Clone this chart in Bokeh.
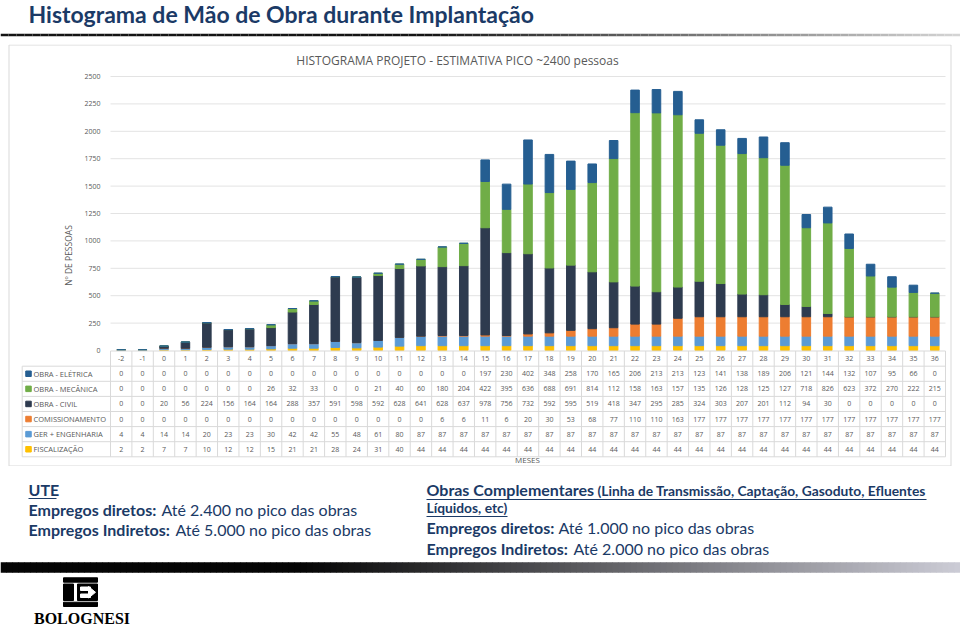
from bokeh.plotting import figure
from bokeh.layouts import column
from bokeh.models import Range1d, FixedTicker, ColumnDataSource
from bokeh.core.properties import value
from bokeh.embed import file_html
from bokeh.resources import INLINE

# ------------------------------------------------------------------ data
months = list(range(-2, 37))
eletrica = [0] * 17 + [197, 230, 402, 348, 258, 170, 165, 206, 213, 213, 123, 141,
                       138, 189, 206, 121, 144, 132, 107, 95, 66, 0]
mecanica = [0, 0, 0, 0, 0, 0, 0, 26, 32, 33, 0, 0, 21, 40, 60, 180, 204, 422, 395,
            636, 688, 691, 814, 1125, 1582, 1632, 1572, 1350, 1262, 1282, 1250, 1270,
            718, 826, 623, 372, 270, 222, 215]
civil = [0, 0, 20, 56, 224, 156, 164, 164, 288, 357, 591, 598, 592, 628, 641, 628, 637,
         978, 756, 732, 592, 595, 519, 418, 347, 295, 285, 324, 303, 207, 201, 112, 94,
         30, 0, 0, 0, 0, 0]
comissionamento = [0] * 15 + [6, 6, 11, 6, 20, 30, 53, 68, 77, 110, 110, 163] + [177] * 12
ger_engenharia = [4, 4, 14, 14, 20, 23, 23, 30, 42, 42, 55, 48, 61, 80] + [87] * 25
fiscalizacao = [2, 2, 7, 7, 10, 12, 12, 15, 21, 21, 28, 24, 31, 40] + [44] * 25

series_labels = ["OBRA - ELÉTRICA", "OBRA - MECÂNICA", "OBRA - CIVIL",
                 "COMISSIONAMENTO", "GER + ENGENHARIA", "FISCALIZAÇÃO"]
y_ticks = [0, 250, 500, 750, 1000, 1250, 1500, 1750, 2000, 2250, 2500]

slide_title = "Histograma de Mão de Obra durante Implantação"
chart_title = "HISTOGRAMA PROJETO - ESTIMATIVA PICO ~2400 pessoas"
y_label = "Nº DE PESSOAS"
x_label = "MESES"

# ------------------------------------------------------------------ style
C_ELE, C_MEC, C_CIV = "#255E91", "#70AD47", "#2E3B4F"
C_COM, C_GER, C_FIS = "#ED7D31", "#5B9BD5", "#FFC000"
series_colors = [C_ELE, C_MEC, C_CIV, C_COM, C_GER, C_FIS]
NAVY = "#1B3A66"
GRAY = "#595959"
LINE = "#D9D9D9"
SLIDE_FONT = value("Lato")
CHART_FONT = value("Open Sans")
W = 960


def blank(w, h, x0, x1, y0, y1):
    p = figure(width=w, height=h, x_range=Range1d(x0, x1), y_range=Range1d(y1, y0),
               toolbar_location=None, output_backend="svg", min_border=0,
               x_axis_location=None, y_axis_location=None)
    p.outline_line_color = None
    p.grid.visible = False
    p.background_fill_color = "white"
    p.border_fill_color = "white"
    return p


def lerp(c0, c1, t):
    t = max(0.0, min(1.0, t))
    return "#%02x%02x%02x" % tuple(int(round(a + (b - a) * t)) for a, b in zip(c0, c1))


# ------------------------------------------------------------------ header
ph = blank(W, 44, 0, W, 0, 44)
ph.text(x=[28], y=[13.5], text=[slide_title], text_font=SLIDE_FONT, text_font_style="bold",
        text_font_size="23px", text_color=NAVY, text_align="left", text_baseline="middle")
gx = list(range(0, W, 8))
ph.segment(x0=gx, x1=[g + 8 for g in gx], y0=[34.5] * len(gx), y1=[34.5] * len(gx),
           line_width=2.5,
           line_color=[lerp((20, 20, 20), (215, 215, 215), (g - 420) / 540) for g in gx])

# ------------------------------------------------------------------ chart + table
X0, X1 = 110.0, 945.0
Y0, Y2500 = 350.0, 76.0
PPM = (X1 - X0) / len(months)
PPU = (Y0 - Y2500) / 2500.0


def xd(rx):
    return months[0] - 0.5 + (rx - X0) / PPM


def yd(ry):
    return (Y0 - ry) / PPU


pc = figure(width=W, height=422, x_range=Range1d(xd(0), xd(W)),
            y_range=Range1d(yd(466), yd(44)), toolbar_location=None,
            output_backend="svg", min_border=0, x_axis_location=None)
pc.outline_line_color = None
pc.grid.visible = False
ya = pc.yaxis[0]
ya.fixed_location = months[0] - 0.5
ya.ticker = FixedTicker(ticks=y_ticks)
ya.axis_line_color = None
ya.major_tick_line_color = None
ya.minor_tick_line_color = None
ya.major_label_text_font_size = "7px"
ya.major_label_text_color = GRAY
ya.major_label_text_font = "Open Sans"
ya.major_label_standoff = 4
ya.axis_label = y_label
ya.axis_label_text_font_size = "8.5px"
ya.axis_label_text_font_style = "normal"
ya.axis_label_text_color = GRAY
ya.axis_label_text_font = "Open Sans"
ya.axis_label_standoff = 7

# chart box
pc.quad(left=[xd(8.5)], right=[xd(950.5)], top=[yd(44.5)], bottom=[yd(465.5)],
        fill_color=None, line_color=LINE, line_width=1)

xa, xb = months[0] - 0.5, months[-1] + 0.5
gt = [t for t in y_ticks if t > 0]
pc.segment(x0=[xa] * len(gt), x1=[xb] * len(gt), y0=gt, y1=gt, line_color="#E3E3E3", line_width=1)

pc.text(x=[xd(457)], y=[yd(60)], text=[chart_title], text_font=CHART_FONT,
        text_font_size="12px", text_color=GRAY, text_align="center", text_baseline="middle")

src = ColumnDataSource(dict(month=months, fis=fiscalizacao, ger=ger_engenharia,
                            com=comissionamento, civ=civil, mec=mecanica, ele=eletrica))
pc.vbar_stack(["fis", "ger", "com", "civ", "mec", "ele"], x="month", width=0.4,
              color=[C_FIS, C_GER, C_COM, C_CIV, C_MEC, C_ELE], source=src)

# table grid
row_top = 350.5
row_edges = [365.7, 380.8, 395.9, 411.0, 426.1, 441.2, 456.3]
left_edge = 21.7
pc.segment(x0=[xa], x1=[xb], y0=[yd(row_top)], y1=[yd(row_top)], line_color=LINE, line_width=1)
pc.segment(x0=[xd(left_edge)] * len(row_edges), x1=[xb] * len(row_edges),
           y0=[yd(r) for r in row_edges], y1=[yd(r) for r in row_edges],
           line_color=LINE, line_width=1)
vx = [m - 0.5 for m in months] + [months[-1] + 0.5]
pc.segment(x0=vx, x1=vx, y0=[yd(row_top)] * len(vx), y1=[yd(row_edges[-1])] * len(vx),
           line_color=LINE, line_width=1)
pc.segment(x0=[xd(left_edge)], x1=[xd(left_edge)], y0=[yd(row_edges[0])],
           y1=[yd(row_edges[-1])], line_color=LINE, line_width=1)

# header row (months)
hdr_y = yd((row_top + row_edges[0]) / 2)
pc.text(x=months, y=[hdr_y] * len(months), text=[str(m) for m in months],
        text_font=CHART_FONT, text_font_size="7px", text_color=GRAY,
        text_align="center", text_baseline="middle")

rows = [eletrica, mecanica, civil, comissionamento, ger_engenharia, fiscalizacao]
row_centers = [yd((row_edges[i] + row_edges[i + 1]) / 2) for i in range(len(rows))]


def cell(v):
    s = str(v)
    return s[:3] if len(s) > 3 else s   # narrow Excel cells clip 4-digit values


cx, cy, ct = [], [], []
for r, vals in enumerate(rows):
    for m, v in zip(months, vals):
        cx.append(m)
        cy.append(row_centers[r])
        ct.append(cell(v))
pc.text(x=cx, y=cy, text=ct, text_font=CHART_FONT, text_font_size="7px",
        text_color=GRAY, text_align="center", text_baseline="middle")

pc.scatter(x=[xd(28)] * len(rows), y=row_centers, marker="square", size=5.5,
           color=series_colors)
pc.text(x=[xd(33)] * len(rows), y=row_centers, text=series_labels, text_font=CHART_FONT,
        text_font_size="7.5px", text_color=GRAY, text_align="left", text_baseline="middle")

pc.text(x=[xd(527)], y=[yd(459)], text=[x_label], text_font=CHART_FONT,
        text_font_size="8px", text_color=GRAY, text_align="center", text_baseline="middle")

# ------------------------------------------------------------------ text block
pt = blank(W, 94, 0, W, 466, 560)
bold_parts = [("UTE", 28, 489), ("Empregos diretos:", 28, 509), ("Empregos Indiretos:", 28, 529),
              ("Obras Complementares", 426, 489),
              ("Empregos diretos:", 426, 527), ("Empregos Indiretos:", 426, 548)]
pt.text(x=[b[1] for b in bold_parts], y=[b[2] for b in bold_parts],
        text=[b[0] for b in bold_parts], text_font=SLIDE_FONT, text_font_style="bold",
        text_font_size="16px", text_color=NAVY, text_align="left", text_baseline="middle")
small_bold = [("(Linha de Transmissão, Captação, Gasoduto, Efluentes", 597, 490),
              ("Líquidos, etc)", 426, 507)]
pt.text(x=[b[1] for b in small_bold], y=[b[2] for b in small_bold],
        text=[b[0] for b in small_bold], text_font=SLIDE_FONT, text_font_style="bold",
        text_font_size="13.8px", text_color=NAVY, text_align="left", text_baseline="middle")
normal_parts = [("Até 2.400 no pico das obras", 161, 509), ("Até 5.000 no pico das obras", 175, 529),
                ("Até 1.000 no pico das obras", 558, 527), ("Até 2.000 no pico das obras", 573, 548)]
pt.text(x=[b[1] for b in normal_parts], y=[b[2] for b in normal_parts],
        text=[b[0] for b in normal_parts], text_font=SLIDE_FONT,
        text_font_size="16px", text_color=NAVY, text_align="left", text_baseline="middle")
pt.segment(x0=[28, 426, 426], x1=[56, 926, 507], y0=[498, 499, 516], y1=[498, 499, 516],
           line_color=NAVY, line_width=1.2)

# ------------------------------------------------------------------ footer
pf = blank(W, 71, 0, W, 560, 631)
fx = list(range(0, W, 6))
pf.quad(left=fx, right=[f + 6.5 for f in fx], top=[561.7] * len(fx), bottom=[572.3] * len(fx),
        line_color=None,
        fill_color=[lerp((5, 5, 5), (205, 205, 215), (f - 300) / 660) for f in fx])
pf.quad(left=[63, 63, 63, 77], right=[97, 97, 73, 97], top=[577.3, 601.7, 583.5, 583.5],
        bottom=[581.7, 606, 600, 600], color="black")
pf.quad(left=[80, 80], right=[90, 90], top=[586.5, 593.5], bottom=[590, 597], color="white")
pf.patch(x=[88, 95, 88], y=[586, 591.8, 597.5], color="white")
pf.text(x=[81.5], y=[618], text=["BOLOGNESI"], text_font=value("Liberation Serif"),
        text_font_style="bold", text_font_size="16px", text_color="black",
        text_align="center", text_baseline="middle")

layout = column(ph, pc, pt, pf)
open("out.html", "w").write(file_html(layout, INLINE))
